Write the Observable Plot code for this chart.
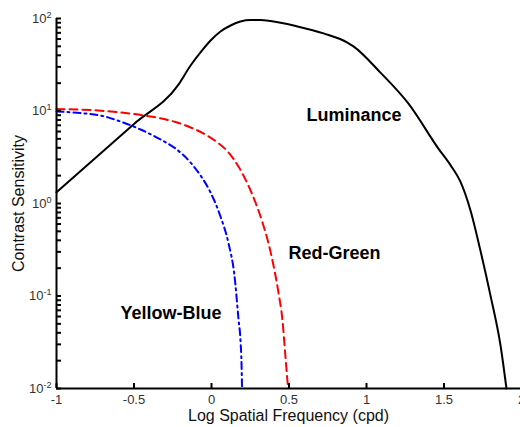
<!DOCTYPE html>
<html><head><meta charset="utf-8">
<script src="https://cdn.jsdelivr.net/npm/d3@7"></script>
<script src="https://cdn.jsdelivr.net/npm/@observablehq/plot@0.6"></script>
<style>body{margin:0;background:#fff}#chart svg{display:block}</style>
</head><body><div id="chart"></div>
<script>
// Luminance (black solid)
const lumX = [-1.000, -0.500, -0.213, -0.135, -0.071, -0.006, 0.058, 0.123, 0.187, 0.252, 0.316, 0.381, 0.555, 0.723, 0.877, 0.916, 1.090, 1.271, 1.465, 1.542, 1.606, 1.671, 1.735, 1.800, 1.865, 1.903];
const lumY = [1.32, 7.25, 19.3, 31, 43, 57.8, 72.3, 84, 92.9, 96.3, 96.3, 94, 82, 69, 55, 50, 26, 12, 3.9, 2.6, 1.72, 0.84, 0.31, 0.101, 0.029, 0.01];
// Red-Green (red dashed)
const rgX = [-1.000, -0.781, -0.587, -0.394, -0.232, -0.135, -0.039, 0.039, 0.110, 0.174, 0.232, 0.284, 0.329, 0.368, 0.400, 0.432, 0.458, 0.477, 0.494];
const rgY = [10.5, 10.25, 9.63, 8.72, 7.6, 6.63, 5.57, 4.56, 3.56, 2.51, 1.64, 1.025, 0.623, 0.37, 0.214, 0.109, 0.0543, 0.0222, 0.01];
// Yellow-Blue (blue dash-dot)
const ybX = [-1.000, -0.845, -0.716, -0.587, -0.458, -0.329, -0.232, -0.135, -0.071, -0.006, 0.058, 0.110, 0.148, 0.174, 0.187, 0.194, 0.197];
const ybY = [9.88, 9.5, 8.94, 7.7, 6.31, 4.92, 3.93, 2.77, 2.01, 1.315, 0.723, 0.37, 0.167, 0.057, 0.033, 0.0177, 0.01];

const xDomain = [-1, 2];
const yDomain = [0.01, 100];
const xTicks = [-1, -0.5, 0, 0.5, 1, 1.5, 2];
const xTickLabels = ["-1", "-0.5", "0", "0.5", "1", "1.5", "2"];
const yTicks = [0.01, 0.1, 1, 10, 100];
const yTickBase = "10";
const yTickExps = ["-2", "-1", "0", "1", "2"];
const seriesLabels = ["Luminance", "Red-Green", "Yellow-Blue"];
const labelX = [0.613, 0.497, -0.587];
const labelY = [8.9, 0.29, 0.065];
const xLabel = "Log Spatial Frequency (cpd)";
const yLabel = "Contrast Sensitivity";

const yMinor = d3.scaleLog().domain(yDomain).ticks();

const W = 520, H = 427, ML = 56, MT = 18, MB = 39, MR = 0;
const FW = W - ML - MR, FH = H - MT - MB;
const TICK = 5;

const chart = Plot.plot({
  width: W, height: H,
  marginLeft: ML, marginTop: MT, marginBottom: MB, marginRight: MR,
  style: {fontFamily: "'Liberation Sans', Arial, sans-serif", background: "#fff", color: "black"},
  x: {domain: xDomain, range: [ML, 521]},
  y: {type: "log", domain: yDomain, range: [H - MB, MT]},
  marks: [
    Plot.line(lumX, {x: lumX, y: lumY, stroke: "black", strokeWidth: 2, curve: "monotone-x"}),
    Plot.line(rgX, {x: rgX, y: rgY, stroke: "#ff0000", strokeWidth: 2, strokeDasharray: "8,5", curve: "monotone-x"}),
    Plot.line(ybX, {x: ybX, y: ybY, stroke: "#0000ff", strokeWidth: 2, strokeDasharray: "7,4,2,4", curve: "monotone-x"}),
    Plot.text(seriesLabels, {x: labelX, y: labelY, text: d => d, textAnchor: "start", fontSize: 18, fontWeight: "bold", fill: "black"}),
    // inward ticks
    Plot.ruleX(xTicks, {x: d => d, insetTop: FH - TICK, stroke: "black", strokeWidth: 2}),
    Plot.ruleY(yMinor, {y: d => d, insetRight: FW - TICK, stroke: "black", strokeWidth: 2}),
    // tick labels
    Plot.axisX({ticks: xTicks, tickSize: 0, tickPadding: 6, tickFormat: d => xTickLabels[xTicks.indexOf(d)], label: null, fill: "#333", fontSize: 13}),
    Plot.axisY({ticks: yTicks, tickSize: 0, tickPadding: 5, label: null, fill: "#333", fontSize: 13,
      tickFormat: d => yTickBase + "^" + yTickExps[yTicks.indexOf(d)]}),
    Plot.ruleX([xDomain[0]], {stroke: "black", strokeWidth: 2}),
    Plot.ruleY([yDomain[0]], {stroke: "black", strokeWidth: 2}),
    Plot.text([xLabel], {frameAnchor: "bottom", lineAnchor: "middle", textAnchor: "middle", dy: 27, fontSize: 16, fill: "#111"}),
    Plot.text([yLabel], {frameAnchor: "left", lineAnchor: "middle", textAnchor: "middle", dx: -38, rotate: -90, fontSize: 16, fill: "#111"})
  ]
});

const svg = d3.select(chart);
svg.selectAll('g[aria-label="y-axis tick label"] text').each(function() {
  const t = this.textContent;
  if (t.includes("^")) {
    const [b, e] = t.split("^");
    this.textContent = "";
    const s = d3.select(this);
    s.append("tspan").text(b);
    s.append("tspan").attr("dy", "-0.55em").attr("font-size", "9px").text(e);
  }
});

document.getElementById("chart").appendChild(chart);
</script>
</body></html>
